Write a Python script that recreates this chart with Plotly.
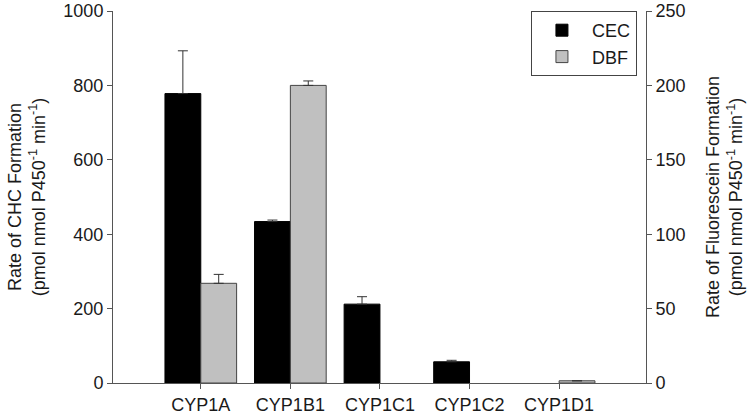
import plotly.graph_objects as go

categories = ["CYP1A", "CYP1B1", "CYP1C1", "CYP1C2", "CYP1D1"]
cec_values = [778, 434, 212, 57, None]
cec_errors = [115, 4, 20, 4, None]
dbf_values = [67, 200, None, None, 1.5]
dbf_errors = [6, 3, None, None, None]
left_ticks = [0, 200, 400, 600, 800, 1000]
right_ticks = [0, 50, 100, 150, 200, 250]

FONT = "Liberation Sans, Arial, sans-serif"
TXT = "#1a1a1a"
AX = "#555555"
FS = 18

fig = go.Figure()
fig.add_trace(go.Bar(
    x=categories, y=cec_values, name="CEC", yaxis="y",
    width=0.4, offset=-0.4,
    marker=dict(color="#000000", line=dict(color="#000000", width=1)),
    error_y=dict(type="data", array=cec_errors, symmetric=False,
                 arrayminus=[0] * len(cec_errors),
                 color="#333333", thickness=1, width=5),
))
fig.add_trace(go.Bar(
    x=categories, y=dbf_values, name="DBF", yaxis="y2",
    width=0.4, offset=0.0,
    marker=dict(color="#c0c0c0", line=dict(color="#444444", width=1)),
    error_y=dict(type="data", array=dbf_errors, symmetric=False,
                 arrayminus=[0] * len(dbf_errors),
                 color="#333333", thickness=1, width=5),
))

fig.update_layout(
    width=750, height=419,
    margin=dict(l=113, r=104, t=11, b=36, autoexpand=False),
    paper_bgcolor="white", plot_bgcolor="white",
    font=dict(family=FONT, size=FS, color=TXT),
    barmode="overlay",
    showlegend=True,
    legend=dict(
        x=0.983, y=1.0, xanchor="right", yanchor="top",
        bordercolor="#444444", borderwidth=1, bgcolor="white",
        font=dict(family=FONT, size=FS, color=TXT),
        tracegroupgap=0, itemwidth=50,
    ),
    xaxis=dict(
        type="category", range=[-0.98, 4.97], automargin=False,
        showline=True, linecolor=AX, linewidth=1,
        ticks="outside", ticklen=5, tickcolor=AX,
        tickfont=dict(size=FS), showgrid=False, zeroline=False,
    ),
    yaxis=dict(
        range=[0, 1000], tickvals=left_ticks, automargin=False,
        showline=True, linecolor=AX, linewidth=1,
        ticks="outside", ticklen=5, tickcolor=AX,
        tickfont=dict(size=FS), showgrid=False, zeroline=False,
        title=dict(text="Rate of CHC Formation<br>(pmol nmol P450<sup>-1</sup> min<sup>-1</sup>)",
                   font=dict(size=FS), standoff=13),
    ),
    yaxis2=dict(
        range=[0, 250], tickvals=right_ticks, overlaying="y", side="right",
        automargin=False,
        showline=True, linecolor=AX, linewidth=1,
        ticks="outside", ticklen=5, tickcolor=AX,
        tickfont=dict(size=FS), showgrid=False, zeroline=False,
        title=dict(text="Rate of Fluorescein Formation<br>(pmol nmol P450<sup>-1</sup> min<sup>-1</sup>)",
                   font=dict(size=FS), standoff=21),
    ),
)

fig.write_html(
    "out.html",
    config={"displayModeBar": False},
    post_script="document.body.style.margin='0';document.body.style.padding='0';",
)
